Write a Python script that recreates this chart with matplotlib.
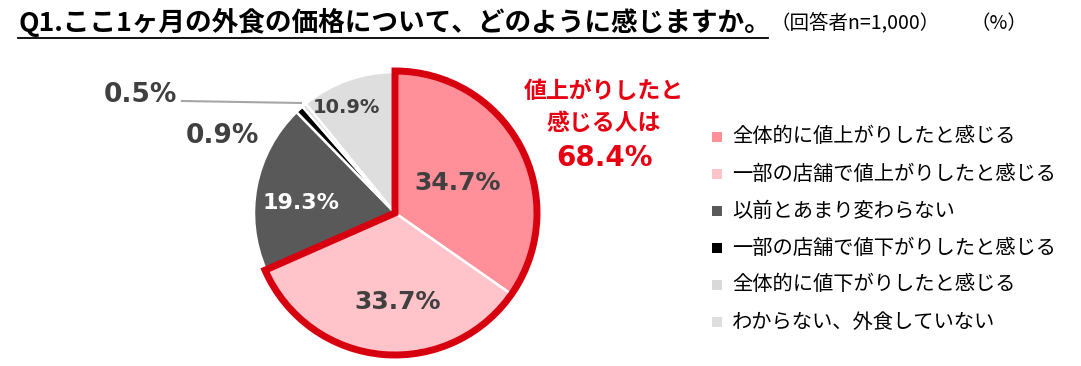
import numpy as np
import matplotlib.pyplot as plt
from matplotlib.patches import Wedge

plt.rcParams['font.family'] = ['Noto Sans CJK JP', 'DejaVu Sans']

categories = ['全体的に値上がりしたと感じる', '一部の店舗で値上がりしたと感じる', '以前とあまり変わらない',
              '一部の店舗で値下がりしたと感じる', '全体的に値下がりしたと感じる', 'わからない、外食していない']
values = [34.7, 33.7, 19.3, 0.9, 0.5, 10.9]
colors = ['#FF8F98', '#FFC3CA', '#595959', '#000000', '#D9D9D9', '#DEDEDE']
label_colors = ['#404040', '#404040', 'white', '#404040', '#404040', '#404040']
rise_total = values[0] + values[1]

W, H = 1081, 366


def Y(y):
    # image pixel row -> axes y (y up)
    return H - y


fig = plt.figure(figsize=(W / 100, H / 100), dpi=100)
ax = fig.add_axes([0, 0, 1, 1])

cx, cy, R = 395, Y(213), 141
wedges, _ = ax.pie(values, colors=colors, startangle=90, counterclock=False,
                   center=(cx, cy), radius=R,
                   wedgeprops=dict(edgecolor='white', linewidth=1.8))

# red outline around the "price went up" part
frac = rise_total / sum(values)
ax.add_patch(Wedge((cx, cy), R + 1, 90 - 360 * frac, 90, facecolor='none',
                   edgecolor='#D7000F', linewidth=5, joinstyle='miter'))

# labels inside slices (radius fraction, angle offset in deg)
place = {0: (0.49, -2), 1: (0.63, 7), 2: (0.67, 5), 5: (0.82, 5)}
cum = np.cumsum([0] + values)
for i, (r, off) in place.items():
    mid = 90 - 360 * (cum[i] + values[i] / 2) / 100 + off
    ang = np.deg2rad(mid)
    fs = 14 if i == 5 else (16 if i == 2 else 18)
    ax.text(cx + r * R * np.cos(ang), cy + r * R * np.sin(ang), f'{values[i]}%',
            ha='center', va='center', fontsize=fs, fontweight='bold',
            color=label_colors[i], family='DejaVu Sans')

# outside labels for the tiny slices
ax.text(222, Y(136), f'{values[3]}%', ha='center', va='center', fontsize=19,
        fontweight='bold', color='#404040', family='DejaVu Sans')
ax.text(140, Y(95), f'{values[4]}%', ha='center', va='center', fontsize=19,
        fontweight='bold', color='#404040', family='DejaVu Sans')
ax.plot([182, 301], [Y(101), Y(103)], color='#A6A6A6', lw=1.5)

# red callout
ax.text(604, Y(91), '値上がりしたと', ha='center', va='center', fontsize=16.5,
        fontweight='bold', color='#E60012')
ax.text(604, Y(124), '感じる人は', ha='center', va='center', fontsize=16.5,
        fontweight='bold', color='#E60012')
ax.text(605, Y(158), f'{rise_total:.1f}%', ha='center', va='center', fontsize=20,
        fontweight='bold', color='#E60012', family='DejaVu Sans')

# legend
for k, (lab, col) in enumerate(zip(categories, colors)):
    ly = Y(137 + 37 * k)
    ax.scatter([717], [ly], marker='s', s=55, color=col, linewidths=0)
    ax.text(732, ly, lab, ha='left', va='center', fontsize=14.6, color='black')

# title
ax.text(18, Y(22), 'Q1.ここ1ヶ月の外食の価格について、どのように感じますか。', ha='left',
        va='center', fontsize=19.2, fontweight='bold', color='black')
ax.plot([18, 768], [Y(38), Y(38)], color='black', lw=1.3)
ax.text(770, Y(24), '（回答者n=1,000）', ha='left', va='center', fontsize=14, color='black')
ax.text(970, Y(24), '（%）', ha='left', va='center', fontsize=14, color='black')

ax.set_xlim(0, W)
ax.set_ylim(0, H)
ax.set_aspect('equal')
ax.axis('off')

fig.savefig('out.png', dpi=100)
